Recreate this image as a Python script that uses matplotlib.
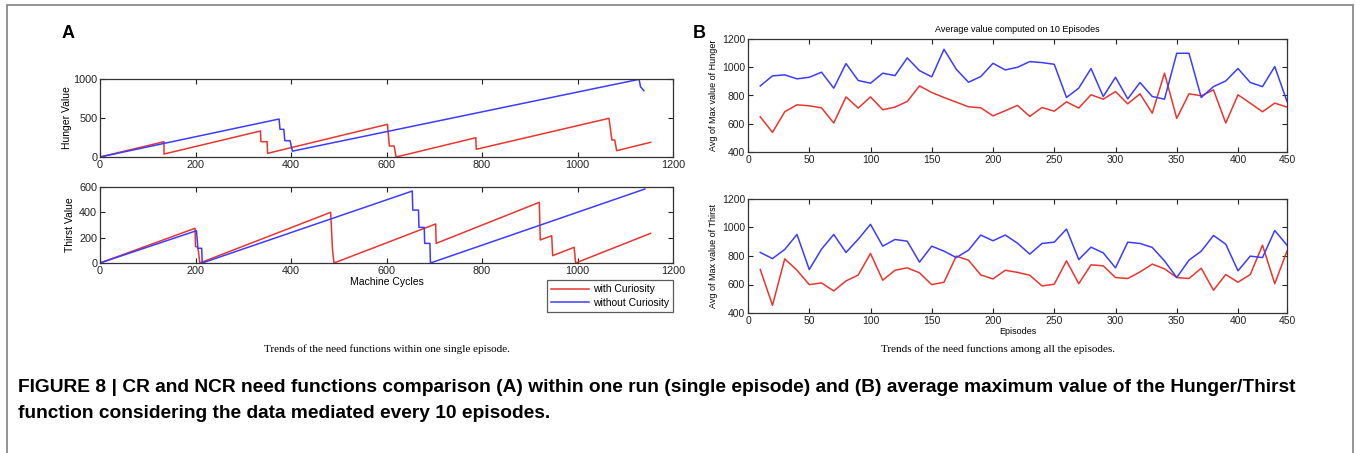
"""
Need functions comparison figure (CR vs NCR)
"""

import matplotlib
matplotlib.use('Agg')
import matplotlib.pyplot as plt
from matplotlib.patches import Rectangle

# ---- panel A: values within one single episode ----
hungerCurCycles = [0, 134, 134, 336, 337, 350, 351, 602, 604, 606, 616, 620,
                   787, 788, 1066, 1072, 1078, 1082, 1153]
hungerCurValues = [0, 196, 38, 333, 196, 196, 47, 419, 282, 141, 141, 0,
                   247, 99, 496, 218, 218, 81, 188]
hungerNoCycles = [0, 375, 377, 385, 387, 398, 403, 1129, 1132, 1139]
hungerNoValues = [0, 487, 355, 355, 209, 209, 75, 996, 900, 850]

thirstCurCycles = [0, 199, 200, 204, 206, 209, 483, 487, 490, 703, 704,
                   920, 922, 946, 948, 993, 996, 1153]
thirstCurValues = [0, 274, 129, 129, 97, 0, 400, 103, 0, 308, 155,
                   479, 182, 215, 58, 124, 0, 234]
thirstNoCycles = [0, 202, 205, 213, 214, 654, 655, 667, 668, 679, 680,
                  691, 692, 1141]
thirstNoValues = [0, 255, 116, 116, 0, 568, 418, 418, 281, 281, 155,
                  155, 0, 584]

# ---- panel B: average max value every 10 episodes ----
episodes = list(range(10, 450, 10))
hungerCurAvg = [649, 539, 685, 734, 727, 713, 605, 790, 711, 790,
                699, 718, 758, 868, 821, 786, 753, 720, 713, 656,
                692, 730, 652, 715, 689, 755, 711, 805, 774, 828,
                741, 812, 675, 958, 638, 812, 798, 840, 605, 805,
                746, 685, 746, 718]
hungerNoAvg = [868, 939, 946, 918, 929, 965, 852, 1026, 906, 887,
               958, 941, 1066, 976, 932, 1127, 986, 894, 934, 1028,
               981, 1000, 1040, 1033, 1021, 786, 852, 991, 793, 929,
               776, 892, 793, 774, 1099, 1099, 786, 863, 903, 991,
               892, 863, 1005, 758]
thirstCurAvg = [705, 454, 780, 700, 599, 611, 555, 625, 667, 818,
                630, 700, 717, 682, 599, 616, 799, 771, 667, 639,
                700, 685, 665, 590, 602, 766, 606, 738, 731, 649,
                642, 688, 743, 710, 649, 642, 714, 560, 670, 616,
                670, 876, 606, 834]
thirstNoAvg = [825, 782, 846, 951, 705, 848, 951, 825, 918, 1022,
               869, 916, 904, 757, 869, 834, 789, 841, 947, 907,
               947, 890, 813, 888, 897, 989, 775, 862, 822, 717,
               897, 888, 860, 766, 649, 771, 834, 944, 883, 696,
               799, 789, 979, 876]
episodeTicks = [0, 50, 100, 150, 200, 250, 300, 350, 400, 440]
episodeTickLabels = ['0', '50', '100', '150', '200', '250', '300', '350', '400', '450']

RED = '#e8362f'
BLUE = '#3c3cff'
W, H = 1356, 453

plt.rcParams['font.family'] = ['Liberation Sans', 'DejaVu Sans']

fig = plt.figure(figsize=(W / 100, H / 100), dpi=100)


def addAxes(x0, y0, x1, y1):
    # pixel box (top-left origin) -> figure fraction
    return fig.add_axes([x0 / W, 1 - y1 / H, (x1 - x0) / W, (y1 - y0) / H])


def matlabStyle(ax, size):
    ax.tick_params(direction='in', top=True, right=True, labelsize=size,
                   length=3.5, width=0.8, colors='#222222', pad=2)
    for s in ax.spines.values():
        s.set_linewidth(0.9)
        s.set_color('#333333')


# A - hunger
axA1 = addAxes(100, 79, 673, 157)
axA1.plot(hungerCurCycles, hungerCurValues, color=RED, lw=1.1)
axA1.plot(hungerNoCycles, hungerNoValues, color=BLUE, lw=1.1)
axA1.set_xlim(0, 1200)
axA1.set_ylim(0, 1000)
axA1.set_xticks(range(0, 1201, 200))
axA1.set_yticks([0, 500, 1000])
axA1.set_ylabel('Hunger Value', fontsize=7.5, labelpad=1)
matlabStyle(axA1, 7.8)

# A - thirst
axA2 = addAxes(100, 187, 673, 263)
l1, = axA2.plot(thirstCurCycles, thirstCurValues, color=RED, lw=1.1)
l2, = axA2.plot(thirstNoCycles, thirstNoValues, color=BLUE, lw=1.1)
axA2.set_xlim(0, 1200)
axA2.set_ylim(0, 600)
axA2.set_xticks(range(0, 1201, 200))
axA2.set_yticks([0, 200, 400, 600])
axA2.set_ylabel('Thirst Value', fontsize=7.5, labelpad=3)
axA2.set_xlabel('Machine Cycles', fontsize=7.5, labelpad=1)
matlabStyle(axA2, 7.8)

leg = fig.legend([l1, l2], ['with Curiosity', 'without Curiosity'],
                 loc='upper right', bbox_to_anchor=(673 / W, 1 - 280 / H),
                 fontsize=7.5, frameon=True, fancybox=False, handlelength=3.6,
                 borderpad=0.4, labelspacing=0.35, handletextpad=0.4,
                 borderaxespad=0)
leg.get_frame().set_edgecolor('#333333')
leg.get_frame().set_linewidth(0.9)

# B - hunger
axB1 = addAxes(748, 39, 1287, 152)
axB1.plot(episodes, hungerCurAvg, color=RED, lw=1.1)
axB1.plot(episodes, hungerNoAvg, color=BLUE, lw=1.1)
axB1.set_xlim(0, 440)
axB1.set_ylim(400, 1200)
axB1.set_xticks(episodeTicks)
axB1.set_xticklabels(episodeTickLabels)
axB1.set_yticks(range(400, 1201, 200))
axB1.set_ylabel('Avg of Max value of Hunger', fontsize=6.5, labelpad=3)
axB1.set_title('Average value computed on 10 Episodes', fontsize=6.5, pad=5)
matlabStyle(axB1, 7.5)

# B - thirst
axB2 = addAxes(748, 199, 1287, 313)
axB2.plot(episodes, thirstCurAvg, color=RED, lw=1.1)
axB2.plot(episodes, thirstNoAvg, color=BLUE, lw=1.1)
axB2.set_xlim(0, 440)
axB2.set_ylim(400, 1200)
axB2.set_xticks(episodeTicks)
axB2.set_xticklabels(episodeTickLabels)
axB2.set_yticks(range(400, 1201, 200))
axB2.set_ylabel('Avg of Max value of Thirst', fontsize=6.5, labelpad=3)
axB2.set_xlabel('Episodes', fontsize=6.5, labelpad=1)
matlabStyle(axB2, 7.5)

# panel letters and captions
fig.text(68 / W, 1 - 33 / H, 'A', fontsize=13, fontweight='bold', ha='center', va='center')
fig.text(699 / W, 1 - 33 / H, 'B', fontsize=13, fontweight='bold', ha='center', va='center')
fig.text(387 / W, 1 - 349 / H, 'Trends of the need functions within one single episode.',
         family='Liberation Serif', fontsize=8, ha='center', va='center')
fig.text(998 / W, 1 - 349 / H, 'Trends of the need functions among all the episodes.',
         family='Liberation Serif', fontsize=8, ha='center', va='center')
fig.text(18 / W, 1 - 387 / H,
         'FIGURE 8 | CR and NCR need functions comparison (A) within one run (single episode) '
         'and (B) average maximum value of the Hunger/Thirst',
         fontsize=13.8, fontweight='bold', ha='left', va='center')
fig.text(18 / W, 1 - 414 / H, 'function considering the data mediated every 10 episodes.',
         fontsize=13.8, fontweight='bold', ha='left', va='center')

# thin frame round the figure
fig.patches.append(Rectangle((7 / W, -0.05), (1353 - 7) / W, 1.05 - 5 / H,
                             transform=fig.transFigure, fill=False,
                             edgecolor='#808080', lw=1.2))

fig.savefig('out.png', dpi=100)
